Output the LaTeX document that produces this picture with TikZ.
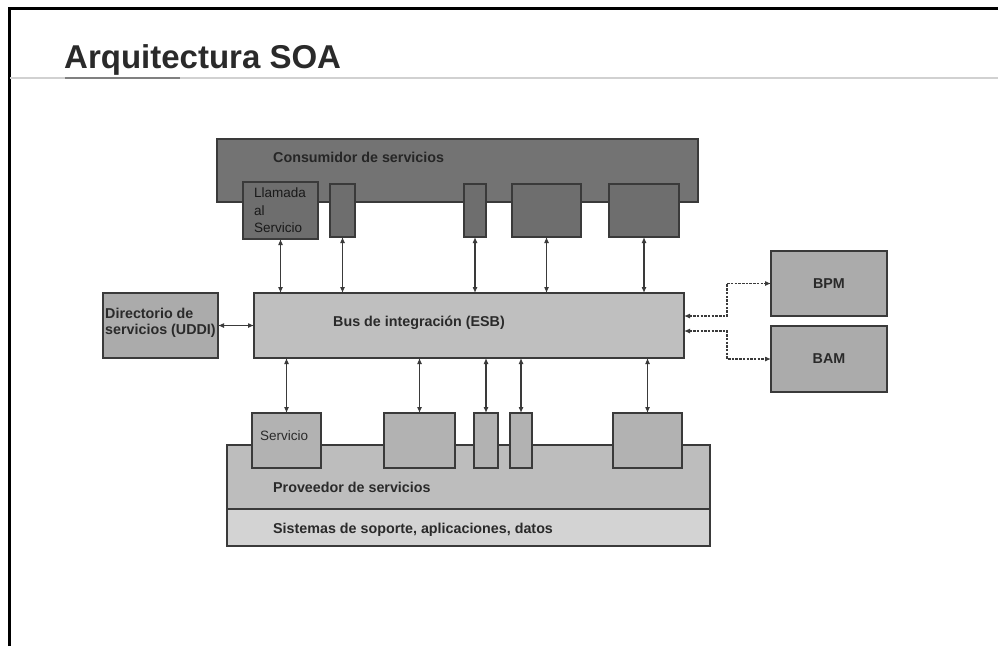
\documentclass[tikz,border=0pt]{standalone}
\usepackage{fontspec}
\setmainfont{Liberation Sans}
\usetikzlibrary{arrows.meta}
\definecolor{consfill}{HTML}{737373}
\definecolor{conssub}{HTML}{6E6E6E}
\definecolor{busfill}{HTML}{BFBFBF}
\definecolor{dirfill}{HTML}{ABABAB}
\definecolor{provfill}{HTML}{BDBDBD}
\definecolor{provsub}{HTML}{B2B2B2}
\definecolor{suppfill}{HTML}{D3D3D3}
\definecolor{edge}{HTML}{3A3A3A}
\definecolor{ink}{HTML}{2A2A2A}
\tikzset{
  box/.style={draw=edge, line width=1.2pt, inner sep=0pt, outer sep=0pt, anchor=north west},
  lbl/.style={inner sep=0pt, anchor=west, text=ink, font=\fontsize{14.3}{17}\selectfont\bfseries},
  small/.style={inner sep=0pt, anchor=west, text=ink, font=\fontsize{13.5}{17.5}\selectfont},
  link/.style={draw=edge, line width=1.1pt, {Latex[length=6pt,width=5pt]}-{Latex[length=6pt,width=5pt]}},
  dlink/.style={link, dash pattern=on 2.5pt off 1.2pt}
}
\begin{document}
\begin{tikzpicture}[x=1pt,y=-1pt]
\useasboundingbox (0,0) rectangle (998,646);
\fill[white] (0,0) rectangle (998,646);
% page frame and heading rule
\draw[line width=3pt, black] (9,646) -- (9,8) -- (998,8);
\draw[line width=2pt, black!18] (10,78) -- (998,78);
\draw[line width=2pt, black!50] (65,78) -- (180,78);
\node[inner sep=0pt, anchor=base west, text=ink, font=\fontsize{33}{36}\selectfont\bfseries] (title) at (64,68) {Arquitectura SOA};

% consumer layer
\node[box, fill=consfill, minimum width=481pt, minimum height=63pt] (cons) at (217,139) {};
\node[lbl, text=black!85] (consl) at (273,157) {Consumidor de servicios};
\node[box, fill=conssub, minimum width=75pt, minimum height=57pt] (c1) at (243,182) {};
\node[box, fill=conssub, minimum width=25pt, minimum height=53pt] (c2) at (330,184) {};
\node[box, fill=conssub, minimum width=22pt, minimum height=53pt] (c3) at (464,184) {};
\node[box, fill=conssub, minimum width=69pt, minimum height=53pt] (c4) at (512,184) {};
\node[box, fill=conssub, minimum width=70pt, minimum height=53pt] (c5) at (609,184) {};
\node[small, text=black!90, align=left, anchor=north west] (c1l) at (254,188) {Llamada\\al\\Servicio};

% integration bus and side services
\node[box, fill=busfill, minimum width=430pt, minimum height=65pt] (bus) at (254,293) {};
\node[lbl] (busl) at (333,323) {Bus de integración (ESB)};
\node[box, fill=dirfill, minimum width=115pt, minimum height=65pt] (dir) at (103,293) {};
\node[lbl, align=left, font=\fontsize{14.3}{16.5}\selectfont\bfseries] (dirl) at (105,323) {Directorio de\\servicios (UDDI)};
\node[box, fill=dirfill, minimum width=116pt, minimum height=65pt] (bpm) at (771,251) {};
\node[lbl, anchor=center] (bpml) at (bpm.center) {BPM};
\node[box, fill=dirfill, minimum width=116pt, minimum height=66pt] (bam) at (771,326) {};
\node[lbl, anchor=center] (baml) at (bam.center) {BAM};

% provider layer
\node[box, fill=provfill, minimum width=483pt, minimum height=64pt] (prov) at (227,445) {};
\node[box, fill=suppfill, minimum width=483pt, minimum height=37pt] (supp) at (227,509) {};
\node[lbl] (provl) at (273,487) {Proveedor de servicios};
\node[lbl] (suppl) at (273,530) {Sistemas de soporte, aplicaciones, datos};
\node[box, fill=provsub, minimum width=69pt, minimum height=55pt] (p1) at (252,413) {};
\node[box, fill=provsub, minimum width=71pt, minimum height=55pt] (p2) at (384,413) {};
\node[box, fill=provsub, minimum width=24pt, minimum height=55pt] (p3) at (474,413) {};
\node[box, fill=provsub, minimum width=22pt, minimum height=55pt] (p4) at (510,413) {};
\node[box, fill=provsub, minimum width=69pt, minimum height=55pt] (p5) at (613,413) {};
\node[small] (p1l) at (260,436) {Servicio};

% consumer <-> bus
\foreach \n in {c1,c2,c3,c4,c5}
  \draw[link] (\n.south) -- (\n.south |- bus.north);
% bus <-> provider
\foreach \n in {p1,p2,p3,p4,p5}
  \draw[link] (\n.north |- bus.south) -- (\n.north);
% directory
\draw[link] (dir.east) -- (bus.west);
% monitoring and process links
\draw[dlink] ([yshift=-23pt]bus.north east) -- ++(43,0) |- (bpm.west);
\draw[dlink] ([yshift=-38pt]bus.north east) -- ++(43,0) |- (bam.west);
\end{tikzpicture}
\end{document}
